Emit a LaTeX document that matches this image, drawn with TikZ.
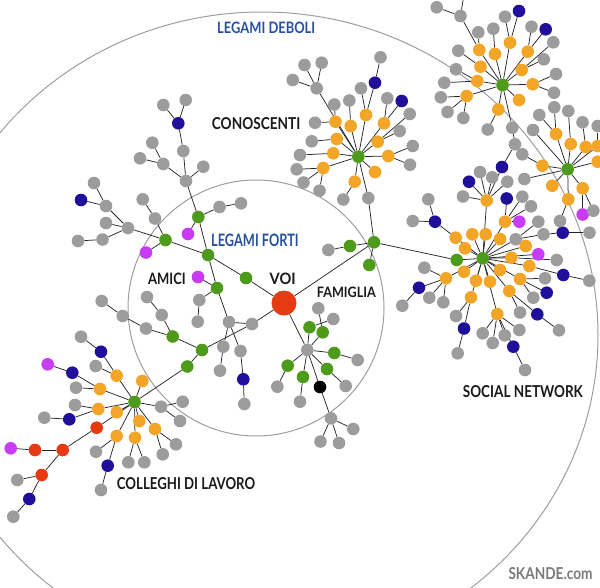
\documentclass[tikz,border=0pt]{standalone}
\usepackage{fontspec}
\setmainfont{Lato}
\usepackage{graphicx}
\pgfdeclarelayer{bg}
\pgfsetlayers{bg,main}
\definecolor{cgn}{HTML}{4E9A1A}
\definecolor{cor}{HTML}{F2A526}
\definecolor{cgr}{HTML}{9C9C9C}
\definecolor{cbl}{HTML}{1F0F9B}
\definecolor{cmg}{HTML}{C83CF5}
\definecolor{crd}{HTML}{E53A12}
\definecolor{ctb}{HTML}{2750A0}
\definecolor{ctk}{HTML}{1A1A1A}
\definecolor{csk}{HTML}{7A7A7A}
\tikzset{
  dot/.style={circle, inner sep=0pt, minimum size=12.6pt, draw=none},
  Gn/.style={dot, fill=cgn}, Or/.style={dot, fill=cor}, Gr/.style={dot, fill=cgr},
  Bl/.style={dot, fill=cbl}, Mg/.style={dot, fill=cmg}, Rd/.style={dot, fill=crd},
  Bk/.style={dot, fill=black}, Voi/.style={dot, fill=crd, minimum size=25pt},
  edge/.style={draw=black!85, line width=0.75pt},
  ring/.style={draw=black!38, line width=1pt},
  lbl/.style={anchor=base west, inner sep=0pt, font=\bfseries}
}
\makeatletter
\newcommand\EdgeList{}
\newcommand\Nd[5]{\node[#1] (#2) at (#3,#4) {};\g@addto@macro\EdgeList{\draw[edge] (#5) -- (#2);}}
\newcommand\Ed[2]{\g@addto@macro\EdgeList{\draw[edge] (#1) -- (#2);}}
\makeatother
\begin{document}
\begin{tikzpicture}[x=1pt,y=-1pt]
\useasboundingbox (0,0) rectangle (600,587);
% centre
\node[Voi] (V) at (284,303) {};
\Nd{Gn}{g1}{246}{278}{V}
\Nd{Gn}{g2}{208}{255}{g1}
\Nd{Gn}{g3}{165.5}{240}{g2}
\Nd{Gr}{a1}{128}{228}{g3}
\Nd{Gr}{a2}{106}{206}{a1}
\Nd{Gr}{a3}{94}{183}{a2}
\Nd{Bl}{a4}{81}{200}{a2}
\Nd{Gr}{a5}{106}{223}{a1}
\Nd{Gr}{a6}{102.5}{239.5}{a1}
\Nd{Gr}{a7}{78}{241}{a6}
\Nd{Gr}{a8}{155}{218.5}{g3}
\Nd{Gr}{a9}{142.7}{199.3}{a8}
\Nd{Mg}{m1}{146}{252.5}{g3}
\Nd{Gn}{g4}{198.3}{217}{g2}
\Nd{Gr}{b1}{186}{181}{g4}
\Nd{Gr}{b2}{183.3}{151}{b1}
\Nd{Bl}{b3}{178.3}{123.3}{b2}
\Nd{Gr}{b4}{163.3}{105}{b3}
\Nd{Gr}{b5}{185.7}{100}{b3}
\Nd{Gr}{b6}{163.3}{164}{b1}
\Nd{Gr}{b7}{152.3}{142.7}{b6}
\Nd{Gr}{b8}{140}{158.3}{b6}
\Nd{Gr}{b9}{203.3}{166.7}{b1}
\Nd{Mg}{m2}{188}{234}{g4}
\Nd{Gr}{b10}{219.5}{207}{g4}
\Nd{Gr}{b11}{241}{203.3}{b10}
\Nd{Gn}{g5}{217}{288}{g2}
\Nd{Mg}{m3}{198}{277}{g5}
\Nd{Gr}{c1}{199.3}{300}{g5}
\Nd{Gr}{c2}{197.7}{321.7}{c1}
\Nd{Gr}{c3}{229}{322}{g5}
\Nd{Gr}{c4}{252}{324}{V}
\Ed{c3}{c4}
\Nd{Gr}{c5}{223.3}{346.7}{c3}
\Nd{Gr}{c6}{220}{370.7}{c5}
\Nd{Gr}{c7}{240.5}{351}{c3}
\Nd{Bl}{c8}{243.3}{379.3}{c7}
\Nd{Gr}{c9}{244.3}{404}{c8}
\Nd{Gn}{g6}{202}{350}{c4}
\Nd{Gn}{g7}{187.3}{366.5}{g6}
\Nd{Gn}{K}{134.5}{402}{g7}
\Nd{Gn}{g8}{172.7}{336.5}{g6}
\Nd{Gr}{d1}{161.7}{315}{g8}
\Nd{Gr}{d2}{147}{297}{d1}
\Nd{Gr}{d3}{146}{328.5}{g8}
\Nd{Gr}{d4}{122.7}{316}{d3}
\Nd{Gr}{d5}{101.7}{301}{d4}
% colleghi
\Nd{Or}{k1}{116.7}{375.7}{K}
\Nd{Bl}{k2}{101}{351.7}{k1}
\Nd{Gr}{k3}{81}{336.7}{k2}
\Nd{Gr}{k4}{95.7}{366}{k1}
\Nd{Or}{k5}{142.3}{381}{K}
\Nd{Or}{k6}{100}{389}{K}
\Nd{Bl}{k7}{72.3}{372.7}{k6}
\Nd{Mg}{k8}{47.7}{364.3}{k7}
\Nd{Gr}{k9}{76}{387.7}{k6}
\Nd{Or}{k10}{98.3}{409}{K}
\Nd{Gr}{k11}{75}{405}{k10}
\Nd{Bl}{k12}{69.3}{419.3}{k10}
\Nd{Gr}{k13}{44.3}{417.7}{k12}
\Nd{Or}{k14}{116.7}{412.3}{K}
\Nd{Rd}{k15}{96.7}{427.7}{K}
\Nd{Rd}{k16}{62.7}{450}{k15}
\Nd{Rd}{k17}{35}{450}{k16}
\Nd{Mg}{k18}{10.7}{448.3}{k17}
\Nd{Rd}{k19}{41.7}{475}{k16}
\Nd{Gr}{k20}{17.3}{480}{k19}
\Nd{Bl}{k21}{29.3}{499}{k19}
\Nd{Gr}{k22}{13.3}{516.7}{k21}
\Nd{Or}{k23}{139.3}{421}{K}
\Nd{Or}{k24}{155}{429}{K}
\Nd{Gr}{k25}{176}{444.3}{k24}
\Nd{Gr}{k26}{162.7}{454.3}{k24}
\Nd{Gr}{k27}{161}{406.7}{K}
\Nd{Gr}{k28}{182.7}{401.7}{k27}
\Nd{Gr}{k29}{180}{421}{k27}
\Nd{Or}{k30}{116.7}{436}{K}
\Nd{Gr}{k31}{96}{451.7}{k30}
\Nd{Bl}{k32}{107.7}{465.7}{k30}
\Nd{Gr}{k33}{101}{490}{k32}
\Nd{Or}{k34}{135}{437.7}{K}
\Nd{Gr}{k35}{128.3}{462.3}{k34}
\Nd{Gr}{k36}{144.3}{462.3}{k34}
% famiglia
\Nd{Gr}{F}{307.3}{350}{V}
\Nd{Gn}{f1}{309.5}{327.3}{F}
\Nd{Gr}{f2}{333.3}{319}{f1}
\Nd{Gn}{f3}{322.7}{332.3}{F}
\Nd{Gr}{f4}{318.3}{308.3}{f3}
\Nd{Gn}{f5}{334.3}{353}{F}
\Nd{Gr}{f6}{357.7}{360}{f5}
\Nd{Gn}{f7}{287.7}{365.7}{F}
\Nd{Gr}{f8}{277.3}{386.7}{f7}
\Nd{Gn}{f9}{303}{377}{F}
\Nd{Gr}{f10}{300}{401.7}{f9}
\Nd{Gn}{f11}{327}{369}{F}
\Nd{Gr}{f12}{345.7}{386}{f11}
\Nd{Bk}{f13}{320}{387}{F}
\Nd{Gr}{f14}{331}{418.3}{f13}
\Nd{Gr}{f15}{353.3}{429}{f14}
\Nd{Gr}{f16}{320.5}{441.5}{f14}
\Nd{Gr}{f17}{339}{443}{f14}
% junction
\Nd{Gn}{J}{374}{242.3}{V}
\Nd{Gn}{j1}{350}{246}{J}
\Nd{Gr}{j2}{328.3}{250}{j1}
\Nd{Gn}{j3}{369.3}{265}{J}
\Nd{Gr}{j4}{368.3}{198}{J}
% conoscenti
\Nd{Gn}{C}{358.3}{156.7}{j4}
\Nd{Or}{co1}{366}{115}{C}
\Nd{Gr}{cg1}{361}{88.3}{co1}
\Nd{Bl}{cb1}{375}{82.7}{co1}
\Nd{Gr}{cg2}{380.5}{57.3}{cb1}
\Nd{Or}{co2}{384}{123.3}{C}
\Nd{Gr}{cg3}{387.3}{98.3}{co2}
\Nd{Bl}{cb2}{401.7}{101}{co2}
\Nd{Or}{co3}{377.7}{141.7}{C}
\Nd{Gr}{cg4}{409.7}{114}{co3}
\Nd{Gr}{cg5}{399.7}{131}{co3}
\Nd{Or}{co4}{388.3}{156}{C}
\Nd{Gr}{cg6}{412.7}{146}{co4}
\Nd{Gr}{cg7}{410}{164.7}{co4}
\Nd{Or}{co5}{375}{172}{C}
\Nd{Or}{co6}{354.7}{181.7}{C}
\Nd{Gr}{cg8}{343.3}{199.5}{co6}
\Nd{Or}{co7}{323.3}{168}{C}
\Nd{Gr}{cg9}{296.7}{169.3}{co7}
\Nd{Gr}{cg10}{303.5}{182.5}{co7}
\Nd{Gr}{cg11}{319.5}{190.7}{co7}
\Nd{Or}{co8}{333.3}{153.3}{C}
\Nd{Gr}{cg12}{300}{155}{co8}
\Nd{Or}{co9}{336.7}{139}{C}
\Nd{Gr}{cg13}{311.7}{141.3}{co9}
\Nd{Or}{co10}{335.5}{121.7}{C}
\Nd{Gr}{cg14}{315}{122.7}{co10}
\Nd{Gr}{cg15}{334.3}{104.5}{co10}
\Nd{Or}{co11}{350.7}{126}{C}
\Nd{Gr}{cg16}{349.3}{100.5}{co11}
\Nd{Gr}{cj}{316.7}{88.3}{C}
\Nd{Gr}{cg17}{304.5}{65}{cj}
\Nd{Gr}{cg18}{321.7}{62.7}{cj}
\Nd{Gr}{cg19}{292.7}{80}{cj}
% social network
\Nd{Gn}{sg}{456.7}{260}{J}
\Nd{Gn}{S}{482.7}{258.3}{sg}
\Nd{Or}{so1}{455.7}{237.7}{S}
\Nd{Bl}{sb1}{435}{221.7}{so1}
\Nd{Gr}{sg1}{412.7}{221}{sb1}
\Nd{Gr}{sg2}{428.3}{199.3}{sb1}
\Nd{Or}{so2}{472.3}{234.3}{S}
\Nd{Or}{so3}{485.7}{234.3}{S}
\Nd{Or}{so4}{465}{248.3}{S}
\Nd{Or}{so5}{500}{239}{S}
\Nd{Or}{so6}{505}{221.7}{S}
\Nd{Bl}{sb2}{506.7}{198.5}{so6}
\Nd{Mg}{sm1}{519.3}{221.7}{so6}
\Nd{Gr}{sg3}{522.3}{196.7}{so6}
\Nd{Gr}{sg4}{531}{206.3}{so6}
\Nd{Or}{so7}{486.7}{200.5}{S}
\Nd{Gr}{sg5}{463}{196.5}{so7}
\Nd{Bl}{sb3}{469}{181.7}{so7}
\Nd{Gr}{sg6}{480}{172}{so7}
\Nd{Gr}{sg7}{492.2}{177.3}{so7}
\Nd{Bl}{sb4}{502}{167}{so7}
\Nd{Gr}{sg8}{507.3}{181.7}{so7}
\Nd{Gr}{sg9}{515}{144.3}{sb4}
\Nd{Gr}{sg10}{512.3}{127.7}{sg9}
\Nd{Gr}{ss1}{515.7}{239.3}{S}
\Nd{Gr}{sg11}{538.3}{221.7}{ss1}
\Nd{Gr}{sg12}{543.5}{234.3}{ss1}
\Nd{Bl}{sb5}{562.7}{232.7}{sg12}
\Nd{Gr}{sg13}{589.5}{232.7}{sb5}
\Nd{Or}{so8}{525.7}{246}{S}
\Nd{Mg}{sm2}{538.3}{254.3}{S}
\Nd{Or}{so9}{511.3}{257.7}{S}
\Nd{Gr}{sg14}{556.7}{260}{so9}
\Nd{Or}{so10}{529.3}{266}{S}
\Nd{Bl}{sb6}{563.3}{275}{so10}
\Nd{Gr}{sg15}{589.3}{280.7}{sb6}
\Nd{Or}{so11}{500}{270}{S}
\Nd{Or}{so12}{520}{279}{S}
\Nd{Gr}{sg16}{545}{278.3}{so12}
\Nd{Gr}{sg17}{533.3}{297.7}{so12}
\Nd{Bl}{sb7}{546.7}{292.7}{so12}
\Nd{Or}{so13}{490}{281.7}{S}
\Nd{Or}{so14}{476}{280.7}{S}
\Nd{Or}{so15}{464}{271.7}{S}
\Nd{Or}{so16}{446}{278.3}{S}
\Nd{Gr}{sg18}{424.3}{267.7}{so16}
\Nd{Bl}{sb8}{419}{287.7}{so16}
\Nd{Gr}{sg19}{402.3}{305.7}{sb8}
\Nd{Gr}{sg20}{429.3}{297.7}{so16}
\Nd{Gr}{sg21}{443.3}{302.3}{so16}
\Nd{Or}{so17}{471}{297.3}{S}
\Nd{Gr}{sg22}{456}{316}{so17}
\Nd{Bl}{sb9}{464}{328.5}{so17}
\Nd{Gr}{sg23}{457.7}{353.3}{sb9}
\Nd{Or}{so18}{509.3}{291}{S}
\Nd{Gr}{sg24}{520}{312.5}{so18}
\Nd{Bl}{sb10}{537.3}{314.3}{so18}
\Nd{Gr}{sg25}{559}{330.3}{sb10}
\Nd{Or}{so19}{497.3}{314}{S}
\Nd{Gr}{sg26}{482.7}{333.3}{so19}
\Nd{Gr}{sg27}{492.7}{343}{so19}
\Nd{Gr}{sg28}{504.7}{335.3}{so19}
\Nd{Gr}{sg29}{519.3}{330}{so19}
\Nd{Bl}{sb11}{513.3}{346.7}{so19}
\Nd{Gr}{sg30}{525}{370}{sb11}
% top right cluster
\Nd{Gn}{T}{502.5}{85}{sg10}
\Nd{Or}{to1}{479.3}{50}{T}
\Nd{Gr}{tg1}{478.3}{32.3}{to1}
\Nd{Gr}{tg2}{460.5}{16}{to1}
\Nd{Gr}{tg3}{436.7}{7.3}{tg2}
\coordinate (top1) at (464,-6);
\Ed{tg2}{top1}
\Nd{Or}{to2}{495}{54}{T}
\Nd{Gr}{tg4}{493.3}{28.7}{to2}
\Nd{Or}{to3}{510}{42.7}{T}
\Nd{Gr}{tg5}{505}{16.7}{to3}
\Nd{Bl}{tb1}{519}{11}{to3}
\Nd{Or}{to4}{527.7}{51.7}{T}
\Nd{Gr}{tg6}{531.5}{26.7}{to4}
\Nd{Bl}{tb2}{545.7}{29.3}{to4}
\Nd{Or}{to5}{480.5}{66.7}{T}
\Nd{Gr}{tg7}{458.3}{50.7}{to5}
\Nd{Or}{to6}{521.7}{70}{T}
\Nd{Gr}{tg8}{553.3}{42.3}{to6}
\Nd{Gr}{tg9}{543.8}{59.3}{to6}
\Nd{Or}{to7}{477.3}{81}{T}
\Nd{Gr}{tg10}{456}{69.3}{to7}
\Nd{Gr}{tg11}{444.3}{82.7}{to7}
\Nd{Or}{to8}{532.7}{84.3}{T}
\Nd{Gr}{tg12}{556}{74}{to8}
\Nd{Gr}{tg13}{554}{92.7}{to8}
\Nd{Or}{to9}{466.7}{96}{T}
\Nd{Gr}{tg14}{440.8}{97.3}{to9}
\Nd{Gr}{tg15}{447.5}{112}{to9}
\Nd{Gr}{tg16}{463.3}{118}{to9}
\Nd{Or}{to10}{519}{100}{T}
\Nd{Or}{to11}{498.3}{109.5}{T}
\Nd{Gr}{tg17}{487.7}{129.5}{to11}
% right cluster
\node[Gn] (R) at (567.7,169.3) {};
\Nd{Or}{ro1}{556}{134}{R}
\Nd{Gr}{rg1}{539.3}{115}{ro1}
\Nd{Gr}{rg2}{554.3}{107.3}{ro1}
\Nd{Or}{ro2}{570.7}{144}{R}
\Nd{Gr}{rg3}{568.3}{111}{ro2}
\Nd{Or}{ro3}{585.7}{147}{R}
\Nd{Gr}{rg4}{582.5}{122.3}{ro3}
\Nd{Or}{ro4}{597.7}{146}{R}
\Nd{Gr}{rg5}{597.7}{126}{ro4}
\Nd{Or}{ro5}{597.7}{161.7}{R}
\Nd{Or}{ro6}{542.5}{165.7}{R}
\Nd{Gr}{rg6}{522.3}{154.3}{ro6}
\Nd{Gr}{rg7}{524.3}{179}{R}
\Nd{Gr}{rg8}{533}{130}{R}
\Nd{Or}{ro7}{552.3}{185.7}{R}
\Nd{Or}{ro8}{582.7}{188.3}{R}
\Nd{Mg}{rm1}{582.7}{214.5}{ro8}
\Nd{Gr}{rg9}{593.3}{210.7}{ro8}
\Nd{Or}{ro9}{568.3}{199.3}{R}
\Nd{Gr}{rg10}{560}{221}{ro9}
% rings and connectors behind the nodes
\begin{pgfonlayer}{bg}
\draw[ring] (262,335) ellipse [x radius=336pt, y radius=323pt];
\draw[ring] (256,308) circle [radius=128pt];
\EdgeList
\end{pgfonlayer}
% labels
\node[lbl] (t1) at (217,33.3) {\resizebox{98pt}{11.5pt}{\color{ctb}LEGAMI DEBOLI}};
\node[lbl] (t2) at (211.7,129) {\resizebox{88.5pt}{12pt}{\color{ctk}CONOSCENTI}};
\node[lbl] (t3) at (211,246.5) {\resizebox{87.5pt}{12.5pt}{\color{ctb}LEGAMI FORTI}};
\node[lbl] (t4) at (148,284.5) {\resizebox{37.5pt}{11.5pt}{\color{ctk}AMICI}};
\node[lbl] (t5) at (269.5,284.5) {\resizebox{26pt}{11.5pt}{\color{ctk}VOI}};
\node[lbl] (t6) at (316.7,297.5) {\resizebox{59pt}{10.5pt}{\color{ctk}FAMIGLIA}};
\node[lbl] (t7) at (462.7,397.7) {\resizebox{120pt}{12pt}{\color{ctk}SOCIAL NETWORK}};
\node[lbl] (t8) at (116.7,489) {\resizebox{138.3pt}{12pt}{\color{ctk}COLLEGHI DI LAVORO}};
\node[lbl] (t9) at (508.3,579.3) {\resizebox{84pt}{12pt}{\color{csk}SKANDE.com}};
\end{tikzpicture}
\end{document}
